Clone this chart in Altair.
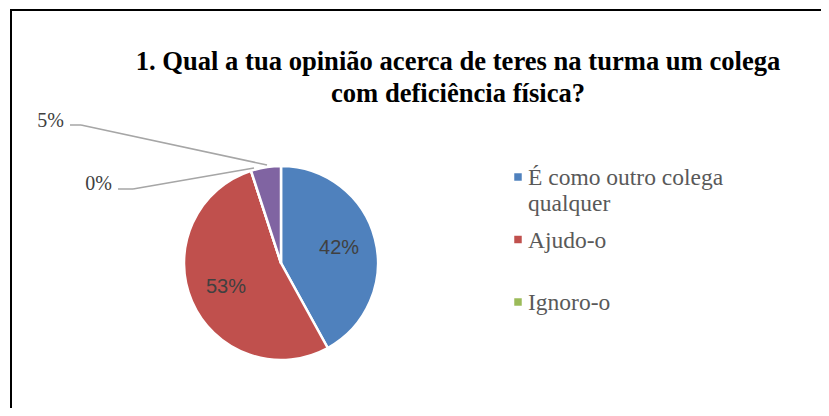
import altair as alt
import pandas as pd

title_text = "1. Qual a tua opinião acerca de teres na turma um colega\ncom deficiência física?"
categories = ["É como outro colega qualquer", "Ajudo-o", "Ignoro-o", "Ignoro-o e afasto-me"]
values = [42, 53, 0, 5]
colors = ["#4F81BD", "#C0504D", "#9BBB59", "#8064A2"]
legend_categories = categories[:3]

df = pd.DataFrame({
    "category": categories,
    "value": values,
    "idx": list(range(len(categories))),
})
df["label"] = [f"{v}%" for v in values]

leg = pd.DataFrame({"category": legend_categories})

color_scale = alt.Scale(domain=categories, range=colors)
CX, CY, R = 273, 255, 97
SERIF = "Liberation Serif, Times New Roman, serif"

base = alt.Chart(df)

pie = base.mark_arc(outerRadius=R, stroke="white", strokeWidth=2.5).encode(
    theta=alt.Theta("value:Q", stack=True),
    color=alt.Color("category:N", scale=color_scale, legend=None),
    order=alt.Order("idx:Q"),
    x=alt.value(CX), y=alt.value(CY),
)

inner = base.transform_calculate(
    inlabel="datum.value >= 10 ? datum.label : ''"
).mark_text(radius=60, font="Liberation Sans", fontSize=20, color="#404040").encode(
    theta=alt.Theta("value:Q", stack=True),
    order=alt.Order("idx:Q"),
    text="inlabel:N",
    x=alt.value(CX), y=alt.value(CY),
)

lab5 = base.transform_filter(alt.datum.idx == 3).mark_text(
    font=SERIF, fontSize=20, color="#404040", align="right", baseline="alphabetic"
).encode(text="label:N", x=alt.value(56), y=alt.value(119))

lab0 = base.transform_filter(alt.datum.idx == 2).mark_text(
    font=SERIF, fontSize=20, color="#404040", align="right", baseline="alphabetic"
).encode(text="label:N", x=alt.value(104), y=alt.value(182))

one = alt.Chart(pd.DataFrame({"k": [0]}))
lc = "#A6A6A6"
leader = alt.layer(
    one.mark_rule(color=lc, strokeWidth=1.5).encode(x=alt.value(62), x2=alt.value(73), y=alt.value(117), y2=alt.value(117)),
    one.mark_rule(color=lc, strokeWidth=1.5).encode(x=alt.value(73), x2=alt.value(259), y=alt.value(117), y2=alt.value(157)),
    one.mark_rule(color=lc, strokeWidth=1.5).encode(x=alt.value(110), x2=alt.value(125), y=alt.value(181), y2=alt.value(181)),
    one.mark_rule(color=lc, strokeWidth=1.5).encode(x=alt.value(125), x2=alt.value(246), y=alt.value(181), y2=alt.value(160)),
)

border = alt.layer(
    one.mark_rule(color="black", strokeWidth=2).encode(x=alt.value(2), x2=alt.value(813), y=alt.value(2), y2=alt.value(2)),
    one.mark_rule(color="black", strokeWidth=2).encode(x=alt.value(3), x2=alt.value(3), y=alt.value(1), y2=alt.value(400)),
)

title = one.transform_calculate(t=f"{title_text!r}").mark_text(
    font=SERIF, fontSize=26.6, fontWeight="bold", color="black",
    align="center", baseline="alphabetic", lineBreak="\n", lineHeight=32,
).encode(text="t:N", x=alt.value(450), y=alt.value(62))

ly = alt.Y("category:N", scale=alt.Scale(type="point", domain=legend_categories, range=[169, 294], padding=0), axis=None)

leg_sym = alt.Chart(leg).mark_square(size=56, opacity=1).encode(
    y=ly, x=alt.value(510),
    color=alt.Color("category:N", scale=color_scale, legend=None),
)
leg_txt = alt.Chart(leg).transform_calculate(
    disp="replace(datum.category, 'colega ', 'colega\\n')"
).mark_text(
    font=SERIF, fontSize=23.5, color="#595959", align="left",
    baseline="alphabetic", dy=8, lineBreak="\n", lineHeight=26,
).encode(y=ly, x=alt.value(520), text="disp:N")

chart = alt.layer(border, title, pie, inner, leader, lab5, lab0, leg_sym, leg_txt).properties(
    width=813, height=400, padding=0, autosize="none", background="white"
).configure_view(stroke=None)

chart.save("out.html", embed_options={"renderer": "svg", "actions": False})
